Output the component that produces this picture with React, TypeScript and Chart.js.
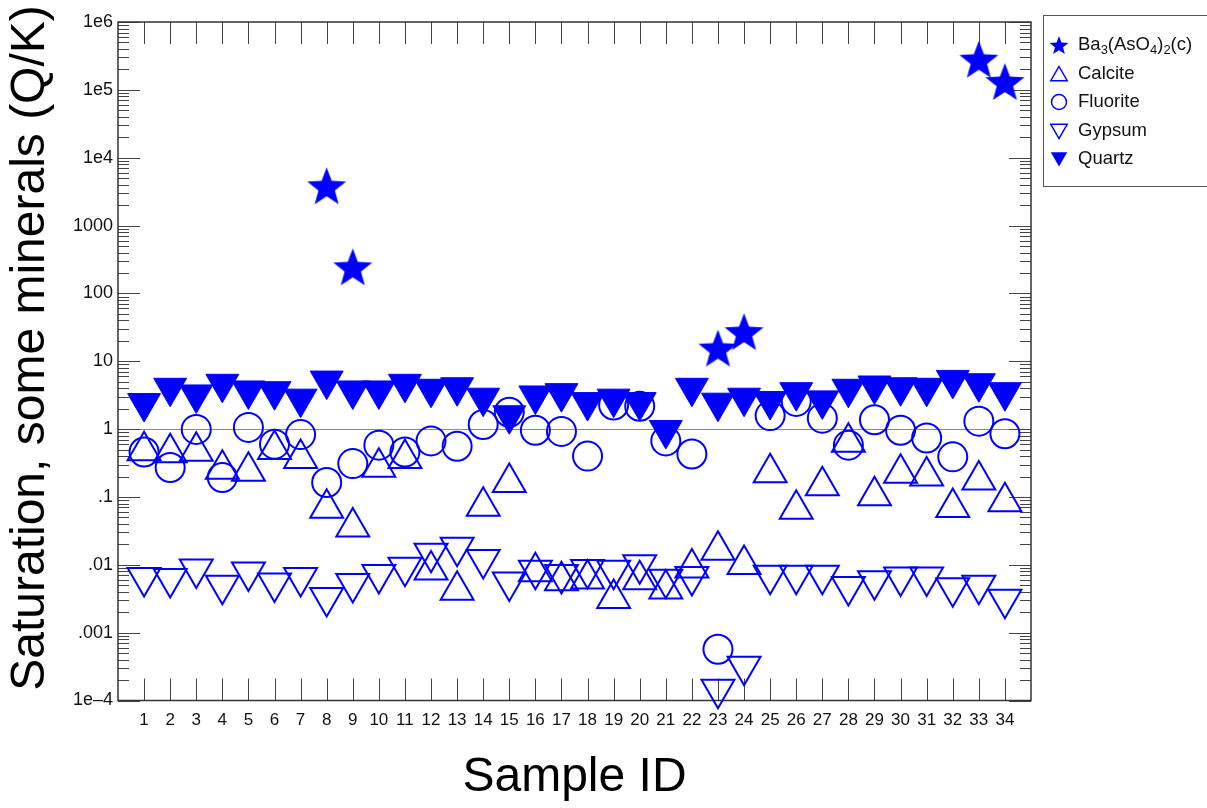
import React, { useEffect, useRef } from 'react';
import { Chart, registerables } from 'chart.js';

Chart.register(...registerables);

// Sample numbers along the x axis
const sampleIds: number[] = Array.from({ length: 34 }, (_, i) => i + 1);

// Saturation indices (Q/K) per sample, index 0 = sample 1; null = not computed
const baArsenate: (number | null)[] = [
  null, null, null, null, null, null, null, 3600, 230, null,
  null, null, null, null, null, null, null, null, null, null,
  null, null, 14.6, 25.5, null, null, null, null, null, null,
  null, null, 2.64e5, 1.24e5,
];
const calcite: (number | null)[] = [
  0.48, 0.45, 0.47, 0.255, 0.24, 0.5, 0.37, 0.068, 0.036, 0.275,
  0.37, 0.0084, 0.0042, 0.073, 0.163, 0.0079, 0.0058, 0.0062, 0.0032, 0.006,
  0.0044, 0.009, 0.0164, 0.0101, 0.228, 0.066, 0.146, 0.64, 0.104, 0.223,
  0.204, 0.07, 0.178, 0.085,
];
const fluorite: (number | null)[] = [
  0.46, 0.272, 0.99, 0.193, 1.06, 0.6, 0.83, 0.163, 0.31, 0.58,
  0.46, 0.67, 0.56, 1.17, 1.77, 0.96, 0.925, 0.4, 2.26, 2.17,
  0.67, 0.43, 5.7e-4, null, 1.58, 2.56, 1.45, 0.58, 1.37, 0.96,
  0.74, 0.39, 1.31, 0.855,
];
const gypsum: (number | null)[] = [
  0.0065, 0.0063, 0.0087, 0.005, 0.0078, 0.0054, 0.0065, 0.0033, 0.0053, 0.0072,
  0.0092, 0.0148, 0.0181, 0.012, 0.0056, 0.0083, 0.0072, 0.0085, 0.0083, 0.01,
  0.0061, 0.0067, 1.46e-4, 3.2e-4, 0.007, 0.007, 0.007, 0.0048, 0.0058, 0.0066,
  0.0066, 0.0046, 0.005, 0.0031,
];
const quartz: (number | null)[] = [
  2.42, 4.06, 3.24, 4.65, 3.71, 3.62, 2.81, 5.19, 3.71, 3.71,
  4.65, 3.93, 4.14, 2.9, 1.6, 3.13, 3.39, 2.5, 2.81, 2.5,
  0.97, 4.06, 2.45, 2.9, 2.59, 3.5, 2.65, 3.93, 4.39, 4.14,
  4.06, 5.31, 4.74, 3.5,
];

// Decade labels on the saturation axis, from 1e-4 up to 1e6
const decadeExponents: number[] = [-4, -3, -2, -1, 0, 1, 2, 3, 4, 5, 6];
const decadeLabels: string[] = ['1e–4', '.001', '.01', '.1', '1', '10', '100', '1000', '1e4', '1e5', '1e6'];

const BLUE = '#0000ff';
const FONT = '"Liberation Sans", Arial, Helvetica, sans-serif';

function toPoints(values: (number | null)[]) {
  const pts: { x: number; y: number }[] = [];
  values.forEach((v, i) => {
    if (v !== null) pts.push({ x: sampleIds[i], y: v });
  });
  return pts;
}

function starPath(g: CanvasRenderingContext2D, cx: number, cy: number, R: number) {
  g.beginPath();
  for (let k = 0; k < 10; k++) {
    const r = k % 2 === 0 ? R : R * 0.42;
    const a = -Math.PI / 2 + (k * Math.PI) / 5;
    const px = cx + r * Math.cos(a);
    const py = cy + r * Math.sin(a);
    if (k === 0) g.moveTo(px, py);
    else g.lineTo(px, py);
  }
  g.closePath();
}

function makeStar(R: number): HTMLCanvasElement {
  const size = Math.ceil(R * 2 + 2);
  const c = document.createElement('canvas');
  c.width = size;
  c.height = size;
  const g = c.getContext('2d') as CanvasRenderingContext2D;
  g.fillStyle = BLUE;
  starPath(g, size / 2, size / 2, R);
  g.fill();
  return c;
}

function triPath(g: CanvasRenderingContext2D, cx: number, cy: number, r: number, down: boolean) {
  const s = down ? -1 : 1;
  g.beginPath();
  g.moveTo(cx, cy - s * r);
  g.lineTo(cx + 0.866 * r, cy + s * r * 0.5);
  g.lineTo(cx - 0.866 * r, cy + s * r * 0.5);
  g.closePath();
}

const axesPlugin = {
  id: 'axesFrame',
  beforeDatasetsDraw(chart: any) {
    const { ctx, chartArea: a, scales } = chart;
    const x = scales.x;
    const y = scales.y;
    ctx.save();

    // reference line at Q/K = 1
    const yOne = Math.round(y.getPixelForValue(1)) + 0.5;
    ctx.strokeStyle = '#8a8a8a';
    ctx.lineWidth = 1;
    ctx.beginPath();
    ctx.moveTo(a.left, yOne);
    ctx.lineTo(a.right, yOne);
    ctx.stroke();

    ctx.strokeStyle = '#444';
    ctx.lineWidth = 1;
    ctx.beginPath();
    // sample ticks, bottom and top, pointing inward
    sampleIds.forEach((id) => {
      const px = Math.round(x.getPixelForValue(id)) + 0.5;
      ctx.moveTo(px, a.bottom);
      ctx.lineTo(px, a.bottom - 22);
      ctx.moveTo(px, a.top);
      ctx.lineTo(px, a.top + 22);
    });
    // decade and minor ticks, left and right
    decadeExponents.forEach((e) => {
      const py = Math.round(y.getPixelForValue(Math.pow(10, e))) + 0.5;
      ctx.moveTo(a.left, py);
      ctx.lineTo(a.left + 22, py);
      ctx.moveTo(a.right, py);
      ctx.lineTo(a.right - 22, py);
      if (e < 6) {
        for (let k = 2; k <= 9; k++) {
          const pm = Math.round(y.getPixelForValue(k * Math.pow(10, e))) + 0.5;
          ctx.moveTo(a.left, pm);
          ctx.lineTo(a.left + 11, pm);
          ctx.moveTo(a.right, pm);
          ctx.lineTo(a.right - 11, pm);
        }
      }
    });
    ctx.stroke();

    // plot frame
    ctx.strokeStyle = '#333';
    ctx.lineWidth = 1.5;
    ctx.strokeRect(a.left, a.top, a.right - a.left, a.bottom - a.top);

    // tick labels
    ctx.fillStyle = '#111';
    ctx.font = `18px ${FONT}`;
    ctx.textAlign = 'right';
    ctx.textBaseline = 'middle';
    decadeExponents.forEach((e, i) => {
      ctx.fillText(decadeLabels[i], a.left - 5, y.getPixelForValue(Math.pow(10, e)));
    });
    ctx.font = `17px ${FONT}`;
    ctx.textAlign = 'center';
    ctx.textBaseline = 'top';
    sampleIds.forEach((id) => {
      ctx.fillText(String(id), x.getPixelForValue(id), a.bottom + 11);
    });
    ctx.restore();
  },
  afterDraw(chart: any) {
    const { ctx, chartArea: a } = chart;
    ctx.save();
    ctx.fillStyle = '#000';

    // axis titles
    ctx.font = `48px ${FONT}`;
    ctx.textAlign = 'center';
    ctx.textBaseline = 'alphabetic';
    ctx.fillText('Sample ID', (a.left + a.right) / 2, 791);
    ctx.save();
    ctx.translate(44, 348);
    ctx.rotate(-Math.PI / 2);
    ctx.fillText('Saturation, some minerals (Q/K)', 0, 0);
    ctx.restore();

    // legend
    const lx = 1043.5;
    const ly = 15.5;
    ctx.strokeStyle = '#555';
    ctx.lineWidth = 1;
    ctx.strokeRect(lx, ly, 170, 171);

    const mx = 1059;
    const tx = 1078;
    const rows = [45, 74, 102, 131, 159];
    ctx.fillStyle = BLUE;
    ctx.strokeStyle = BLUE;
    ctx.lineWidth = 1.5;
    starPath(ctx, mx, rows[0] + 1, 10);
    ctx.fill();
    triPath(ctx, mx, rows[1] + 2, 9.5, false);
    ctx.stroke();
    ctx.beginPath();
    ctx.arc(mx, rows[2], 7.5, 0, Math.PI * 2);
    ctx.stroke();
    triPath(ctx, mx, rows[3] - 2, 9.5, true);
    ctx.stroke();
    triPath(ctx, mx, rows[4] - 2, 9.5, true);
    ctx.fill();

    ctx.fillStyle = '#111';
    ctx.textAlign = 'left';
    ctx.textBaseline = 'middle';
    const big = `18.5px ${FONT}`;
    const small = `13px ${FONT}`;
    // Ba3(AsO4)2(c) with subscripts
    const parts: [string, boolean][] = [
      ['Ba', false], ['3', true], ['(AsO', false], ['4', true], [')', false], ['2', true], ['(c)', false],
    ];
    let cx = tx;
    parts.forEach(([t, sub]) => {
      ctx.font = sub ? small : big;
      ctx.fillText(t, cx, rows[0] + (sub ? 5 : 0));
      cx += ctx.measureText(t).width;
    });
    ctx.font = big;
    ['Calcite', 'Fluorite', 'Gypsum', 'Quartz'].forEach((t, i) => {
      ctx.fillText(t, tx, rows[i + 1]);
    });
    ctx.restore();
  },
};

export default function App() {
  const ref = useRef<HTMLCanvasElement | null>(null);

  useEffect(() => {
    const canvas = ref.current;
    if (!canvas) return;
    const star = makeStar(20.5);
    const common = {
      borderColor: BLUE,
      borderWidth: 2,
      showLine: false,
      clip: false as any,
    };
    const chart = new Chart(canvas, {
      type: 'scatter',
      data: {
        datasets: [
          {
            ...common,
            label: 'Ba3(AsO4)2(c)',
            data: toPoints(baArsenate),
            pointStyle: star as any,
            pointRadius: 20,
            backgroundColor: BLUE,
            order: 5,
          },
          {
            ...common,
            label: 'Calcite',
            data: toPoints(calcite),
            pointStyle: 'triangle',
            pointRadius: 19,
            backgroundColor: 'rgba(0,0,0,0)',
            order: 4,
          },
          {
            ...common,
            label: 'Fluorite',
            data: toPoints(fluorite),
            pointStyle: 'circle',
            pointRadius: 14.5,
            backgroundColor: 'rgba(0,0,0,0)',
            order: 3,
          },
          {
            ...common,
            label: 'Gypsum',
            data: toPoints(gypsum),
            pointStyle: 'triangle',
            pointRotation: 180,
            pointRadius: 19,
            backgroundColor: 'rgba(0,0,0,0)',
            order: 2,
          },
          {
            ...common,
            label: 'Quartz',
            data: toPoints(quartz),
            pointStyle: 'triangle',
            pointRotation: 180,
            pointRadius: 19,
            backgroundColor: BLUE,
            borderWidth: 1,
            order: 1,
          },
        ] as any,
      },
      options: {
        responsive: false,
        animation: false,
        devicePixelRatio: 1,
        layout: { padding: { left: 0, top: 16, right: 176, bottom: 0 } },
        plugins: {
          legend: { display: false },
          tooltip: { enabled: false },
        },
        events: [],
        scales: {
          x: {
            type: 'linear',
            min: 0,
            max: 35,
            ticks: { display: false },
            grid: { display: false },
            border: { display: false },
            afterFit: (s: any) => {
              s.height = 107.5;
            },
          },
          y: {
            type: 'logarithmic',
            min: 1e-4,
            max: 1e6,
            ticks: { display: false },
            grid: { display: false },
            border: { display: false },
            afterFit: (s: any) => {
              s.width = 118;
            },
          },
        },
      } as any,
      plugins: [axesPlugin],
    });
    return () => chart.destroy();
  }, []);

  return (
    <div style={{ position: 'absolute', left: 0, top: 0, width: 1207, height: 808, background: '#fff' }}>
      <canvas ref={ref} width={1207} height={808} style={{ display: 'block' }} />
    </div>
  );
}
